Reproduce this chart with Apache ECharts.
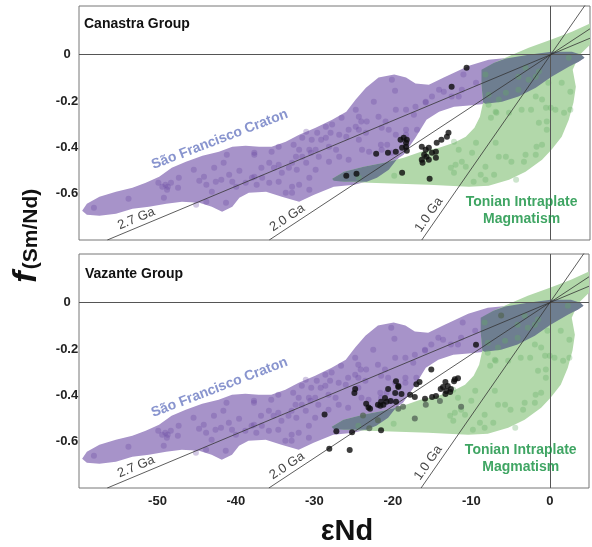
<!DOCTYPE html>
<html>
<head>
<meta charset="utf-8">
<script src="https://cdn.jsdelivr.net/npm/echarts@6/dist/echarts.min.js"></script>
<style>
  html, body { margin: 0; padding: 0; background: #fff; }
  #chart { width: 592px; height: 547px; }
</style>
</head>
<body>
<div id="chart"></div>
<script>
// panels
const panelTitles = ['Canastra Group', 'Vazante Group'];

// reference lines through CHUR (0,0): εNd where each meets f = -0.8
const isochronNames = ['2.7 Ga', '2.0 Ga', '1.0 Ga'];
const isochronBase = [-56.4, -35.8, -16.4];
const isochronLabelAt = [-52.3, -32.9, -14.6];

// São Francisco Craton field outline [εNd, f]
const cratonField = [
  [-59.6,-0.674],[-59.0,-0.644],[-57.4,-0.613],[-55.3,-0.592],[-53.2,-0.575],[-51.5,-0.553],
  [-49.8,-0.527],[-48.2,-0.488],[-46.4,-0.462],[-44.3,-0.436],[-42.2,-0.419],[-40.5,-0.397],
  [-38.8,-0.393],[-37.1,-0.397],[-35.5,-0.397],[-33.7,-0.376],[-32.0,-0.346],[-29.9,-0.315],
  [-27.8,-0.281],[-26.0,-0.246],[-24.8,-0.194],[-23.5,-0.143],[-21.9,-0.099],[-19.9,-0.086],
  [-18.4,-0.099],[-17.2,-0.125],[-15.5,-0.130],[-13.6,-0.099],[-12.3,-0.078],[-10.4,-0.048],
  [-7.9,-0.022],[-5.3,-0.013],[-2.8,0],[0.1,0.013],[2.7,0.013],[3.9,0],[4.3,-0.013],
  [3.6,-0.030],[2.3,-0.052],[0.1,-0.095],[-1.9,-0.143],[-4.1,-0.181],[-6.2,-0.203],
  [-8.3,-0.212],[-10.4,-0.220],[-12.3,-0.225],[-14.2,-0.246],[-15.8,-0.281],[-17.2,-0.359],
  [-18.7,-0.432],[-19.3,-0.445],[-20.6,-0.497],[-22.5,-0.540],[-25.0,-0.562],[-27.6,-0.570],
  [-30.1,-0.605],[-32.0,-0.635],[-34.2,-0.613],[-36.2,-0.592],[-38.4,-0.596],[-39.6,-0.618],
  [-40.5,-0.657],[-41.8,-0.678],[-43.1,-0.657],[-44.7,-0.639],[-46.9,-0.635],[-48.9,-0.644],
  [-51.1,-0.657],[-53.2,-0.665],[-55.3,-0.687],[-57.4,-0.695],[-59.0,-0.691]
];

// Tonian intraplate magmatism field outline [εNd, f]
const tonianField = [
  [-27.8,-0.536],[-26.3,-0.505],[-23.8,-0.484],[-21.2,-0.467],[-18.7,-0.445],[-16.5,-0.419],
  [-14.2,-0.402],[-12.3,-0.380],[-10.8,-0.354],[-9.7,-0.315],[-9.0,-0.268],[-8.6,-0.207],
  [-8.8,-0.130],[-8.6,-0.065],[-7.2,-0.035],[-5.1,-0.004],[-2.8,0.030],[0.1,0.065],
  [2.7,0.099],[5.0,0.134],[5.0,0.043],[3.6,-0.004],[2.8,-0.065],[3.2,-0.138],[2.9,-0.207],
  [2.3,-0.281],[1.4,-0.354],[0.1,-0.410],[-1.1,-0.454],[-3.2,-0.505],[-5.3,-0.540],
  [-7.9,-0.566],[-10.4,-0.570],[-13.0,-0.566],[-15.5,-0.562],[-19.3,-0.557],[-23.1,-0.553],
  [-26.3,-0.549]
];

// where the two fields overlap (darker zones)
const overlapNearChur = [
  [-8.8,-0.065],[-7.2,-0.035],[-5.7,-0.017],[-2.8,0],[0.1,0.013],[2.7,0.013],[3.9,0],
  [4.3,-0.013],[3.6,-0.030],[2.3,-0.052],[0.1,-0.095],[-1.9,-0.143],[-4.1,-0.181],
  [-6.2,-0.203],[-8.3,-0.212],[-8.6,-0.207],[-8.8,-0.130]
];
const overlapTail = [
  [-27.8,-0.536],[-26.3,-0.505],[-23.8,-0.484],[-21.2,-0.467],[-19.6,-0.454],[-20.6,-0.497],
  [-22.1,-0.531],[-23.4,-0.549],[-26.3,-0.549],[-27.6,-0.544]
];

// compiled craton samples (faint purple dots)
const cratonSamples = [
  [-58.1,-0.661],[-53.7,-0.622],[-49.9,-0.553],[-49.4,-0.570],[-49.0,-0.562],[-48.7,-0.570],
  [-48.3,-0.553],[-48.8,-0.583],[-47.4,-0.575],[-47.3,-0.531],[-49.2,-0.618],[-45.4,-0.497],
  [-44.7,-0.544],[-44.1,-0.527],[-43.8,-0.562],[-42.8,-0.488],[-42.6,-0.549],[-41.9,-0.540],
  [-43.1,-0.592],[-43.8,-0.635],[-41.3,-0.639],[-40.9,-0.518],[-40.5,-0.549],[-40.0,-0.570],
  [-39.6,-0.501],[-41.2,-0.432],[-38.8,-0.553],[-38.0,-0.531],[-37.7,-0.423],[-45.1,-0.648],
  [-41.6,-0.467],[-20.2,-0.108],[-19.8,-0.156],[-22.5,-0.203],[-24.1,-0.289],[-24.8,-0.311],
  [-24.4,-0.324],[-23.4,-0.289],[-21.9,-0.268],[-21.0,-0.289],[-21.5,-0.315],[-19.7,-0.238],
  [-18.4,-0.238],[-17.2,-0.225],[-15.9,-0.207],[-17.4,-0.259],[-17.0,-0.324],[-20.8,-0.389],
  [-21.6,-0.389],[-23.5,-0.337],[-25.7,-0.324],[-26.0,-0.354],[-26.9,-0.346],[-28.0,-0.337],
  [-28.6,-0.359],[-29.7,-0.337],[-30.4,-0.367],[-29.2,-0.367],[-28.2,-0.397],[-29.9,-0.410],
  [-30.7,-0.410],[-32.0,-0.410],[-32.7,-0.389],[-32.4,-0.441],[-31.6,-0.441],[-31.1,-0.467],
  [-30.5,-0.423],[-29.5,-0.441],[-28.2,-0.462],[-26.9,-0.441],[-25.7,-0.454],[-24.0,-0.410],
  [-23.1,-0.419],[-24.4,-0.367],[-27.3,-0.410],[-33.3,-0.488],[-32.9,-0.467],[-34.6,-0.475],
  [-35.2,-0.488],[-35.8,-0.467],[-34.2,-0.510],[-32.3,-0.497],[-29.9,-0.497],[-30.7,-0.531],
  [-32.9,-0.570],[-30.7,-0.583],[-32.9,-0.596],[-33.7,-0.596],[-32.0,-0.562],[-34.6,-0.549],
  [-36.7,-0.531],[-37.7,-0.527],[-37.4,-0.562],[-35.8,-0.553],[-37.7,-0.432],[-36.8,-0.488],
  [-35.5,-0.419],[-34.6,-0.397],[-31.6,-0.359],[-31.1,-0.333],[-27.8,-0.302],[-28.6,-0.311],
  [-26.6,-0.272],[-24.4,-0.268],[-24.8,-0.238],[-20.6,-0.324],[-19.7,-0.346],[-18.4,-0.346],
  [-18.4,-0.324],[-21.5,-0.410],[-20.2,-0.423],[-11.1,-0.086],[-11.3,-0.151],[-11.7,-0.181],
  [-13.6,-0.160],[-14.2,-0.151],[-15.1,-0.181],[-15.9,-0.203],[-9.5,-0.121],[-12.6,-0.181]
];

// compiled Tonian samples (faint green dots)
const tonianSamples = [
  [-8.3,-0.086],[-5.7,-0.164],[-4.1,-0.095],[-2.8,-0.108],[-1.9,-0.095],[-3.2,-0.056],
  [-1.5,-0.073],[2.3,-0.013],[-7.9,-0.173],[-6.6,-0.194],[-4.1,-0.151],[1.4,-0.121],
  [2.5,-0.160],[-0.3,-0.121],[-1.9,-0.181],[-1.1,-0.194],[-0.6,-0.229],[0.0,-0.229],
  [-2.5,-0.238],[-3.7,-0.238],[-5.3,-0.251],[-7.0,-0.246],[-7.9,-0.216],[-7.6,-0.272],
  [-0.5,-0.289],[-0.5,-0.324],[1.7,-0.251],[2.5,-0.238],[-1.1,-0.389],[-1.9,-0.432],
  [-3.2,-0.432],[-3.4,-0.462],[-5.0,-0.462],[-6.6,-0.441],[-8.3,-0.484],[-10.0,-0.423],
  [-11.3,-0.462],[-12.1,-0.475],[-12.7,-0.488],[-10.8,-0.484],[-12.3,-0.510],[-8.9,-0.518],
  [-7.2,-0.518],[-9.8,-0.549],[-8.3,-0.540],[-12.3,-0.376],[-1.8,-0.397],[-5.7,-0.441],
  [-7.0,-0.380],[-9.5,-0.380],[-11.7,-0.410],[-4.4,-0.540],[-1.5,-0.294],[0.6,-0.238],
  [-6.9,-0.251],[-24.4,-0.531],[-19.9,-0.523]
];

// Canastra Group samples
const canastraData = [
  [-10.7,-0.056],[-12.6,-0.138],[-18.3,-0.367],[-18.7,-0.359],[-18.4,-0.380],[-18.4,-0.397],
  [-18.3,-0.415],[-18.9,-0.402],[-19.7,-0.419],[-20.7,-0.423],[-22.2,-0.428],[-19.1,-0.367],
  [-16.4,-0.397],[-15.9,-0.410],[-15.5,-0.402],[-16.1,-0.432],[-15.8,-0.441],[-15.1,-0.423],
  [-14.6,-0.419],[-16.4,-0.454],[-15.5,-0.454],[-14.6,-0.445],[-14.5,-0.380],[-13.9,-0.367],
  [-13.2,-0.354],[-13.0,-0.337],[-16.3,-0.467],[-26.0,-0.523],[-24.7,-0.514],[-18.9,-0.510],
  [-15.4,-0.536]
];

// Vazante Group samples
const vazanteData = [
  [-9.4,-0.182],[-15.1,-0.288],[-19.6,-0.339],[-16.6,-0.343],[-24.8,-0.373],[-24.9,-0.390],
  [-20.6,-0.373],[-19.3,-0.364],[-19.7,-0.390],[-18.9,-0.394],[-17.8,-0.398],[-17.2,-0.407],
  [-15.9,-0.415],[-15.0,-0.407],[-14.5,-0.403],[-21.0,-0.411],[-20.8,-0.428],[-21.5,-0.428],
  [-21.9,-0.441],[-19.6,-0.428],[-23.4,-0.436],[-23.1,-0.453],[-22.9,-0.458],[-21.6,-0.445],
  [-21.2,-0.441],[-20.3,-0.424],[-13.3,-0.343],[-13.0,-0.360],[-12.6,-0.373],[-13.2,-0.381],
  [-13.9,-0.373],[-12.7,-0.386],[-12.1,-0.331],[-11.7,-0.326],[-13.3,-0.394],[-21.5,-0.551],
  [-27.2,-0.555],[-25.2,-0.559],[-28.7,-0.483],[-28.1,-0.631],[-25.5,-0.636],[-13.6,-0.364],
  [-12.2,-0.339],[-17.0,-0.352],[-19.3,-0.360]
];
// Vazante samples that sit under the Tonian field
const vazanteShaded = [
  [-14.0,-0.424],[-15.8,-0.441],[-11.3,-0.449],[-19.3,-0.458],[-18.7,-0.449],[-17.2,-0.500],
  [-21.9,-0.508],[-23.8,-0.487],[-23.0,-0.542],[-6.2,-0.055]
];

const FONT = '"Liberation Sans", Arial, sans-serif';
const X_MIN = -60, X_MAX = 5, Y_MIN = -0.8, Y_MAX = 0.21;
const GRID_W = 511, GRID_H = 234;

function polygonSeries (shapes, fill, gi, z) {
  return {
    type: 'custom',
    xAxisIndex: gi, yAxisIndex: gi,
    clip: true, silent: true, z: z,
    data: shapes.map(function (s, i) { return [i]; }),
    encode: { x: -1, y: -1 },
    renderItem: function (params, api) {
      const pts = shapes[params.dataIndex].map(function (p) { return api.coord(p); });
      return {
        type: 'polygon',
        shape: { points: pts },
        style: { fill: fill, stroke: null }
      };
    }
  };
}

function dots (data, color, size, gi, z) {
  return {
    type: 'scatter', xAxisIndex: gi, yAxisIndex: gi, z: z, silent: true,
    symbolSize: size, data: data,
    itemStyle: { color: color }
  };
}

function panelSeries (gi) {
  const list = [
    polygonSeries([cratonField], 'rgb(167,147,201)', gi, 1),
    polygonSeries([tonianField], 'rgb(178,216,170)', gi, 1),
    polygonSeries([overlapNearChur, overlapTail], 'rgb(110,126,144)', gi, 2),
    dots(tonianSamples, 'rgba(100,175,100,0.4)', 6, gi, 3),
    dots(cratonSamples, 'rgba(100,70,160,0.38)', 6, gi, 3)
  ];

  // reference lines
  isochronBase.forEach(function (x0, i) {
    const slope = Y_MIN / x0;
    const s = {
      type: 'line', xAxisIndex: gi, yAxisIndex: gi, z: 5, silent: true,
      showSymbol: false, symbol: 'none', clip: true,
      lineStyle: { color: '#333', width: 0.8 },
      data: [[x0, Y_MIN], [0, 0], [X_MAX, slope * X_MAX]]
    };
    if (i === 0) {
      s.markLine = {
        silent: true, symbol: 'none', label: { show: false },
        lineStyle: { color: '#555', width: 1, type: 'solid' },
        data: [{ xAxis: 0 }, { yAxis: 0 }]
      };
    }
    list.push(s);
  });

  // labels on the reference lines
  list.push({
    type: 'scatter', xAxisIndex: gi, yAxisIndex: gi, z: 6, silent: true,
    symbolSize: 0,
    data: isochronBase.map(function (x0, i) {
      const slope = Y_MIN / x0;
      const e = isochronLabelAt[i];
      const ang = Math.atan(slope * (GRID_H / (Y_MAX - Y_MIN)) / (GRID_W / (X_MAX - X_MIN))) * 180 / Math.PI;
      return {
        name: isochronNames[i], value: [e, slope * e],
        label: { rotate: ang }
      };
    }),
    label: {
      show: true, position: 'inside', formatter: '{b}',
      align: 'center', verticalAlign: 'bottom', padding: [0, 0, 2, 0],
      fontFamily: FONT, fontSize: 13, color: '#111'
    }
  });

  // field names
  list.push({
    type: 'scatter', xAxisIndex: gi, yAxisIndex: gi, z: 6, silent: true,
    symbolSize: 0,
    data: [
      { name: 'São Francisco Craton', value: [-42.1, -0.366],
        label: { rotate: 21, color: '#6a79c2' } },
      { name: 'Tonian Intraplate\nMagmatism', value: [-3.7, -0.675],
        label: { color: '#0f8f3c', lineHeight: 17 } }
    ],
    label: {
      show: true, position: 'inside', formatter: '{b}',
      align: 'center', verticalAlign: 'middle',
      fontFamily: FONT, fontSize: 14, fontWeight: 'bold'
    }
  });

  const samples = gi === 0 ? canastraData : vazanteData;
  list.push(dots(samples, '#0d0d0d', 6, gi, 7));
  if (gi === 1) list.push(dots(vazanteShaded, '#56685a', 6, gi, 7));
  return list;
}

function yLabel (v) {
  if (v < -0.7 || v > 0.1) return '';
  return Math.abs(v) < 1e-9 ? '0' : v.toFixed(1);
}

const grids = [0, 1].map(function (i) {
  return {
    left: 79, right: 2, top: i === 0 ? 6 : 254, height: GRID_H,
    show: true, borderColor: '#777', borderWidth: 1, backgroundColor: 'transparent'
  };
});

const xAxes = [0, 1].map(function (i) {
  return {
    type: 'value', gridIndex: i, min: X_MIN, max: X_MAX, interval: 10,
    axisLine: { show: false }, axisTick: { show: false }, splitLine: { show: false },
    axisLabel: {
      show: i === 1, margin: 7,
      fontFamily: FONT, fontSize: 13, fontWeight: 'bold', color: '#222',
      formatter: function (v) { return (v < -55 || v > 0) ? '' : String(v); }
    }
  };
});

const yAxes = [0, 1].map(function (i) {
  return {
    type: 'value', gridIndex: i, min: Y_MIN, max: Y_MAX, interval: 0.2,
    axisLine: { show: false }, axisTick: { show: false }, splitLine: { show: false },
    axisLabel: {
      margin: 12, align: 'center',
      fontFamily: FONT, fontSize: 13, fontWeight: 'bold', color: '#222',
      formatter: yLabel
    }
  };
});

const option = {
  backgroundColor: '#ffffff',
  animation: false,
  grid: grids,
  xAxis: xAxes,
  yAxis: yAxes,
  series: panelSeries(0).concat(panelSeries(1)),
  graphic: [
    { type: 'text', x: 84, y: 24, z: 10,
      style: { text: panelTitles[0], fontFamily: FONT, fontSize: 14, fontWeight: 'bold', fill: '#111',
               align: 'left', verticalAlign: 'middle', textAlign: 'left', textVerticalAlign: 'middle' } },
    { type: 'text', x: 85, y: 274, z: 10,
      style: { text: panelTitles[1], fontFamily: FONT, fontSize: 14, fontWeight: 'bold', fill: '#111',
               align: 'left', verticalAlign: 'middle', textAlign: 'left', textVerticalAlign: 'middle' } },
    { type: 'text', x: 347, y: 532, z: 10,
      style: { text: 'εNd', fontFamily: FONT, fontSize: 29, fontWeight: 'bold', fill: '#111',
               align: 'center', verticalAlign: 'middle', textAlign: 'center', textVerticalAlign: 'middle' } },
    { type: 'text', x: 31, y: 229, rotation: Math.PI / 2, z: 10,
      style: { text: '(Sm/Nd)', fontFamily: FONT, fontSize: 21, fontWeight: 'bold', fill: '#111',
               align: 'center', verticalAlign: 'middle', textAlign: 'center', textVerticalAlign: 'middle' } },
    { type: 'text', x: 27, y: 277, rotation: Math.PI / 2, z: 10,
      style: { text: 'f', fontFamily: FONT, fontSize: 34, fontWeight: 'bold', fontStyle: 'italic', fill: '#111',
               align: 'center', verticalAlign: 'middle', textAlign: 'center', textVerticalAlign: 'middle' } }
  ]
};

const chart = echarts.init(document.getElementById('chart'));
chart.setOption(option);
</script>
</body>
</html>
